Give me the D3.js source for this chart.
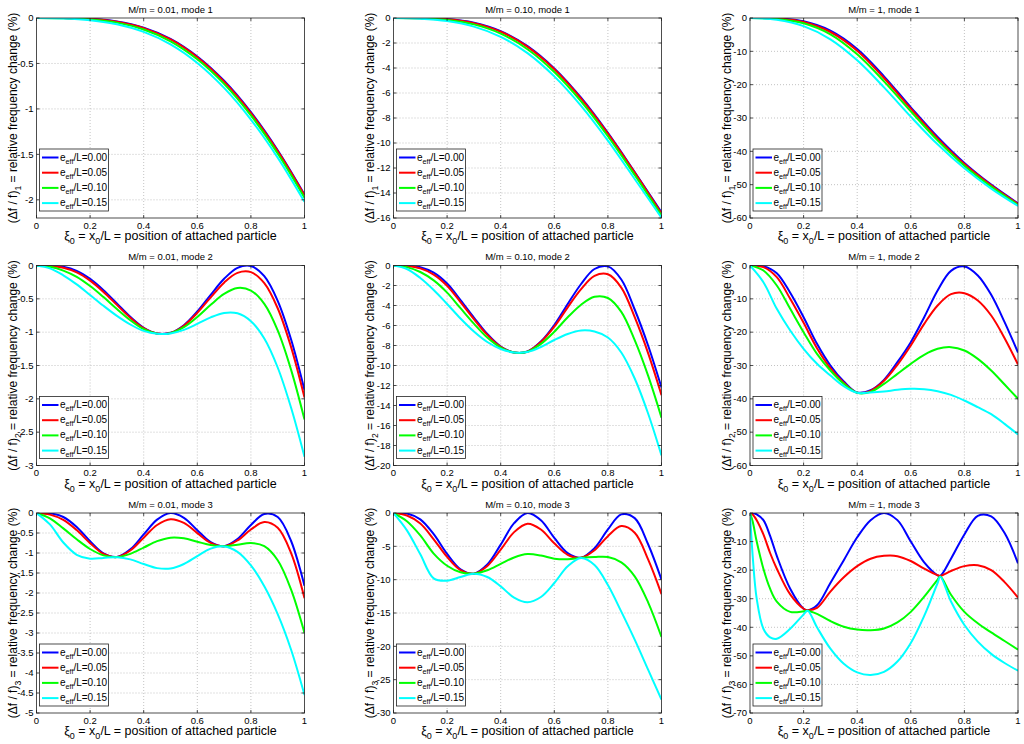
<!DOCTYPE html>
<html>
<head>
<meta charset="utf-8">
<script src="https://d3js.org/d3.v7.min.js"></script>
<style>
  html, body { margin: 0; padding: 0; background: #fff; }
  svg text { font-family: "Liberation Sans", Arial, Helvetica, sans-serif; fill: #000; }
</style>
</head>
<body>
<svg id="chart" width="1024" height="744"></svg>
<script>
var xTenth = [0, 0.1, 0.2, 0.3, 0.4, 0.5, 0.6, 0.7, 0.8, 0.9, 1];
var xTwentieth = [0, 0.05, 0.1, 0.15, 0.2, 0.25, 0.3, 0.35, 0.4, 0.45, 0.5,
                  0.55, 0.6, 0.65, 0.7, 0.75, 0.8, 0.85, 0.9, 0.95, 1];
var xHeavyMode3 = [0, 0.01, 0.025, 0.05, 0.075, 0.1, 0.15, 0.2, 0.215, 0.25, 0.3, 0.35, 0.4,
                   0.45, 0.5, 0.55, 0.6, 0.65, 0.7, 0.71, 0.75, 0.8, 0.85, 0.9, 0.95, 1];

var xTickValues = [0, 0.2, 0.4, 0.6, 0.8, 1];
var xTickLabels = ["0", "0.2", "0.4", "0.6", "0.8", "1"];

// legend: e_eff/L values and their colours
var effLabels = ["0.00", "0.05", "0.10", "0.15"];
var effColors = ["#0000ff", "#ff0000", "#00ff00", "#00ffff"];

var panelTitles = ["M/m = 0.01, mode 1", "M/m = 0.10, mode 1", "M/m = 1, mode 1",
                   "M/m = 0.01, mode 2", "M/m = 0.10, mode 2", "M/m = 1, mode 2",
                   "M/m = 0.01, mode 3", "M/m = 0.10, mode 3", "M/m = 1, mode 3"];

var yTickSets = [
  [0, -0.5, -1, -1.5, -2],
  [0, -2, -4, -6, -8, -10, -12, -14, -16],
  [0, -10, -20, -30, -40, -50, -60],
  [0, -0.5, -1, -1.5, -2, -2.5, -3],
  [0, -2, -4, -6, -8, -10, -12, -14, -16, -18, -20],
  [0, -10, -20, -30, -40, -50, -60],
  [0, -0.5, -1, -1.5, -2, -2.5, -3, -3.5, -4, -4.5, -5],
  [0, -5, -10, -15, -20, -25, -30],
  [0, -10, -20, -30, -40, -50, -60, -70]
];
var yLowerLimits = [-2.2, -16, -60, -3, -20, -60, -5, -30, -70];

// relative frequency change (%), one row per e_eff/L (0.00, 0.05, 0.10, 0.15)
var mass001Mode1 = [
  [0, -0.001, -0.008, -0.037, -0.106, -0.229, -0.423, -0.691, -1.036, -1.455, -1.942],
  [0, -0.001, -0.010, -0.041, -0.111, -0.236, -0.431, -0.700, -1.045, -1.464, -1.951],
  [0, -0.003, -0.016, -0.051, -0.127, -0.256, -0.454, -0.725, -1.072, -1.491, -1.978],
  [0, -0.005, -0.025, -0.069, -0.153, -0.290, -0.494, -0.769, -1.117, -1.536, -2.022]
];
var mass010Mode1 = [
  [0, -0.006, -0.082, -0.374, -1.05, -2.245, -4.03, -6.38, -9.19, -12.32, -15.55],
  [0, -0.011, -0.10, -0.408, -1.10, -2.31, -4.10, -6.45, -9.25, -12.37, -15.65],
  [0, -0.027, -0.156, -0.512, -1.25, -2.50, -4.32, -6.67, -9.46, -12.56, -15.8],
  [0, -0.054, -0.248, -0.687, -1.505, -2.81, -4.67, -7.03, -9.81, -12.88, -15.98]
];
var mass1Mode1 = [
  [0, -0.08, -1.0, -3.8, -9.3, -17.5, -26.8, -35.7, -43.5, -50.0, -55.6],
  [0, -0.14, -1.2, -4.2, -9.8, -18.0, -27.2, -36.1, -43.8, -50.2, -55.8],
  [0, -0.28, -1.6, -4.9, -10.9, -19.0, -28.0, -36.7, -44.3, -50.6, -56.1],
  [0, -0.55, -2.45, -6.4, -12.7, -20.8, -29.6, -37.9, -45.1, -51.2, -56.4]
];
var mass001Mode2 = [
  [0, -0.001, -0.02, -0.08, -0.20, -0.37, -0.57, -0.77, -0.935, -1.02, -1.01,
   -0.895, -0.69, -0.44, -0.20, -0.035, -0.008, -0.16, -0.53, -1.11, -1.87],
  [0, -0.006, -0.034, -0.103, -0.227, -0.396, -0.591, -0.783, -0.94, -1.02, -1.011,
   -0.903, -0.711, -0.478, -0.257, -0.111, -0.100, -0.264, -0.641, -1.224, -1.98],
  [0, -0.02, -0.076, -0.17, -0.308, -0.474, -0.653, -0.821, -0.955, -1.022, -1.014,
   -0.926, -0.773, -0.59, -0.427, -0.338, -0.376, -0.576, -0.974, -1.566, -2.31],
  [0, -0.043, -0.147, -0.283, -0.443, -0.605, -0.756, -0.885, -0.981, -1.025, -1.019,
   -0.965, -0.876, -0.778, -0.711, -0.717, -0.835, -1.095, -1.53, -2.135, -2.87]
];
var mass010Mode2 = [
  [0, -0.01, -0.17, -0.72, -1.8, -3.45, -5.2, -6.85, -8.1, -8.7, -8.6,
   -7.6, -5.95, -3.85, -1.85, -0.35, -0.09, -1.4, -4.4, -8.0, -12.2],
  [0, -0.05, -0.29, -0.91, -2.03, -3.66, -5.36, -6.94, -8.13, -8.7, -8.61,
   -7.66, -6.12, -4.18, -2.37, -1.04, -0.88, -2.21, -5.17, -8.76, -12.96],
  [0, -0.16, -0.65, -1.49, -2.71, -4.27, -5.82, -7.21, -8.21, -8.7, -8.62,
   -7.84, -6.62, -5.18, -3.92, -3.13, -3.25, -4.64, -7.47, -11.02, -15.22],
  [0, -0.35, -1.25, -2.45, -3.85, -5.3, -6.6, -7.65, -8.35, -8.7, -8.65,
   -8.15, -7.45, -6.85, -6.5, -6.6, -7.2, -8.7, -11.3, -14.8, -19.0]
];
var mass1Mode2 = [
  [0, -0.2, -2.3, -8.2, -15.5, -23.5, -30.0, -34.8, -38.1, -37.4, -34.3,
   -29.0, -23.0, -15.5, -7.5, -1.6, -0.3, -3.0, -8.8, -17.0, -26.1],
  [0, -0.5, -3.5, -10.0, -17.2, -24.8, -30.8, -35.2, -38.15, -37.6, -34.6,
   -29.8, -24.0, -17.5, -12.0, -8.6, -8.3, -10.5, -15.0, -21.8, -29.7],
  [0, -1.5, -6.0, -13.0, -20.0, -26.5, -31.5, -35.5, -38.2, -37.9, -35.5,
   -32.5, -29.5, -26.8, -25.0, -24.5, -25.5, -28.0, -31.5, -35.7, -40.0],
  [0, -5.0, -13.0, -19.5, -25.0, -29.5, -33.0, -36.2, -38.2, -38.1, -37.8,
   -37.3, -37.0, -37.1, -37.7, -38.8, -40.5, -42.5, -44.6, -47.5, -50.7]
];
var mass001Mode3 = [
  [0, -0.009, -0.10, -0.35, -0.705, -1.01, -1.10, -0.91, -0.535, -0.165, -0.001,
   -0.12, -0.43, -0.73, -0.83, -0.65, -0.30, -0.025, -0.10, -0.70, -1.82],
  [0, -0.04, -0.171, -0.427, -0.754, -1.023, -1.101, -0.938, -0.617, -0.30, -0.155,
   -0.248, -0.502, -0.748, -0.831, -0.686, -0.412, -0.226, -0.37, -1.004, -2.13],
  [0, -0.132, -0.384, -0.658, -0.90, -1.06, -1.103, -1.021, -0.864, -0.704, -0.617,
   -0.633, -0.718, -0.802, -0.833, -0.792, -0.749, -0.829, -1.181, -1.916, -3.0],
  [0, -0.286, -0.738, -1.044, -1.143, -1.123, -1.106, -1.159, -1.276, -1.378, -1.388,
   -1.275, -1.077, -0.892, -0.836, -0.97, -1.31, -1.833, -2.53, -3.42, -4.55]
];
var mass010Mode3 = [
  [0, -0.08, -0.95, -3.18, -6.13, -8.45, -9.1, -7.73, -4.75, -1.53, 0,
   -1.09, -3.74, -6.03, -6.7, -5.28, -2.47, -0.21, -0.77, -4.69, -10.0],
  [0, -0.38, -1.58, -3.94, -6.59, -8.56, -9.1, -7.95, -5.5, -2.87, -1.61,
   -2.47, -4.55, -6.27, -6.71, -5.58, -3.47, -1.96, -2.96, -6.95, -12.16],
  [0, -1.24, -3.37, -6.09, -7.91, -8.89, -9.1, -8.59, -7.63, -6.67, -6.16,
   -6.38, -6.85, -6.94, -6.72, -6.6, -6.6, -7.4, -9.5, -13.4, -18.6],
  [0, -2.6, -6.2, -9.8, -10.15, -9.6, -9.1, -9.6, -11.0, -12.7, -13.4,
   -12.6, -10.5, -8.0, -6.75, -7.8, -10.8, -14.8, -19.0, -23.5, -28.0]
];
var mass1Mode3 = [
  [0, 0, -0.5, -2.5, -8, -15, -26.5, -33.5, -34, -32.3, -24.5, -16.5, -8.5,
   -2.5, 0, -2.5, -10, -17.3, -21.8, -22, -16.0, -7.5, -1.0, -1.2, -7.0, -17.6],
  [0, -0.5, -2.5, -7.5, -14, -19.5, -28.5, -33.5, -34, -33.2, -27.5, -22.5, -18.6,
   -16.0, -15.0, -15.1, -16.8, -19.5, -21.8, -22, -20.3, -18.6, -18.3, -20.0, -24.2, -29.6],
  [0, -3, -10, -19.5, -26.5, -31, -34.6, -34.4, -34.2, -35.3, -37.8, -39.8, -40.8,
   -41.0, -40.4, -38.3, -34.6, -29.3, -23.3, -22.2, -28.6, -34.6, -38.6, -41.8, -44.8, -47.8],
  [0, -15, -30, -40.5, -43.5, -44, -40.5, -35.5, -34.2, -40.0, -47.5, -52.8, -55.8,
   -56.7, -55.6, -52.0, -45.5, -36.0, -24.5, -22.3, -31.0, -39.2, -45.0, -49.3, -52.5, -55.2]
];

var panelSeries = [mass001Mode1, mass010Mode1, mass1Mode1,
                   mass001Mode2, mass010Mode2, mass1Mode2,
                   mass001Mode3, mass010Mode3, mass1Mode3];
var panelX = [xTenth, xTenth, xTenth,
              xTwentieth, xTwentieth, xTwentieth,
              xTwentieth, xTwentieth, xHeavyMode3];

// layout of the 3x3 grid
var colLeft = [36.5, 393.5, 750];
var rowTop = [18, 265.5, 513];
var plotW = 268, plotH = 200;
var tickLen = 3;
var axisColor = "#222";

var svg = d3.select("#chart");
svg.append("rect").attr("width", 1024).attr("height", 744).attr("fill", "#fff");

// writes text made of [string, isSubscript] pieces
function richText(sel, parts, size) {
  var shift = Math.round(size * 0.3);
  var down = false;
  parts.forEach(function(p) {
    var t = sel.append("tspan").text(p[0]);
    if (p[1]) {
      t.attr("font-size", size * 0.72).attr("dy", down ? 0 : shift);
      down = true;
    } else {
      t.attr("font-size", size);
      if (down) { t.attr("dy", -shift); down = false; }
    }
  });
}

panelSeries.forEach(function(series, i) {
  var row = Math.floor(i / 3), col = i % 3;
  var mode = row + 1;
  var xs = panelX[i];
  var yTicks = yTickSets[i];

  var x = d3.scaleLinear().domain([0, 1]).range([0, plotW]);
  var y = d3.scaleLinear().domain([yLowerLimits[i], 0]).range([plotH, 0]);

  var g = svg.append("g").attr("transform", "translate(" + colLeft[col] + "," + rowTop[row] + ")");

  var clipId = "clip" + i;
  g.append("clipPath").attr("id", clipId)
    .append("rect").attr("width", plotW).attr("height", plotH);

  g.append("rect").attr("width", plotW).attr("height", plotH).attr("fill", "#fff");

  // dotted grid
  var grid = g.append("g")
    .attr("stroke", "#b4b4b4").attr("stroke-width", 0.8).attr("stroke-dasharray", "1,2");
  xTickValues.slice(1, -1).forEach(function(v) {
    grid.append("line").attr("x1", x(v)).attr("x2", x(v)).attr("y1", 0).attr("y2", plotH);
  });
  yTicks.forEach(function(v) {
    if (v === 0 || v === yLowerLimits[i]) return;
    grid.append("line").attr("x1", 0).attr("x2", plotW).attr("y1", y(v)).attr("y2", y(v));
  });

  // curves
  var line = d3.line()
    .x(function(d) { return x(d[0]); })
    .y(function(d) { return y(d[1]); })
    .curve(d3.curveCatmullRom.alpha(0.5));

  var curves = g.append("g").attr("clip-path", "url(#" + clipId + ")");
  series.forEach(function(vals, k) {
    curves.append("path")
      .datum(vals.map(function(v, j) { return [xs[j], v]; }))
      .attr("d", line)
      .attr("fill", "none")
      .attr("stroke", effColors[k])
      .attr("stroke-width", 2)
      .attr("stroke-linejoin", "round");
  });

  // box and inward ticks
  g.append("rect").attr("width", plotW).attr("height", plotH)
    .attr("fill", "none").attr("stroke", axisColor).attr("stroke-width", 0.8);
  var ticks = g.append("g").attr("stroke", axisColor).attr("stroke-width", 0.8);
  xTickValues.forEach(function(v) {
    ticks.append("line").attr("x1", x(v)).attr("x2", x(v)).attr("y1", plotH).attr("y2", plotH - tickLen);
    ticks.append("line").attr("x1", x(v)).attr("x2", x(v)).attr("y1", 0).attr("y2", tickLen);
  });
  yTicks.forEach(function(v) {
    ticks.append("line").attr("x1", 0).attr("x2", tickLen).attr("y1", y(v)).attr("y2", y(v));
    ticks.append("line").attr("x1", plotW).attr("x2", plotW - tickLen).attr("y1", y(v)).attr("y2", y(v));
  });

  // tick labels
  xTickValues.forEach(function(v, j) {
    g.append("text").attr("x", x(v)).attr("y", plotH + 10.5)
      .attr("text-anchor", "middle").attr("font-size", 9.5).text(xTickLabels[j]);
  });
  yTicks.forEach(function(v) {
    g.append("text").attr("x", -3).attr("y", y(v) + 3.3)
      .attr("text-anchor", "end").attr("font-size", 9.5).text(String(v));
  });

  // title
  g.append("text").attr("x", plotW / 2).attr("y", -5.5)
    .attr("text-anchor", "middle").attr("font-size", 9.5).text(panelTitles[i]);

  // axis labels
  var xl = g.append("text").attr("x", plotW / 2).attr("y", plotH + 22)
    .attr("text-anchor", "middle");
  richText(xl, [["\u03be", false], ["0", true], [" = x", false], ["0", true],
                ["/L = position of attached particle", false]], 12.5);

  var yl = g.append("text")
    .attr("transform", "translate(-19.5," + (plotH / 2) + ") rotate(-90)")
    .attr("text-anchor", "middle");
  richText(yl, [["(\u0394f / f)", false], [String(mode), true],
                [" = relative frequency change (%)", false]], 12);

  // legend, bottom left inside the axes
  var lgW = 69, lgH = 62;
  var lg = g.append("g").attr("transform", "translate(3," + (plotH - 7 - lgH) + ")");
  lg.append("rect").attr("width", lgW).attr("height", lgH)
    .attr("fill", "#fff").attr("stroke", axisColor).attr("stroke-width", 0.8);
  effLabels.forEach(function(lbl, k) {
    var ly = 8.5 + k * 15.2;
    lg.append("line").attr("x1", 2.5).attr("x2", 19).attr("y1", ly).attr("y2", ly)
      .attr("stroke", effColors[k]).attr("stroke-width", 2);
    var t = lg.append("text").attr("x", 20.5).attr("y", ly + 3);
    richText(t, [["e", false], ["eff", true], ["/L=" + lbl, false]], 10);
  });
});
</script>
</body>
</html>
